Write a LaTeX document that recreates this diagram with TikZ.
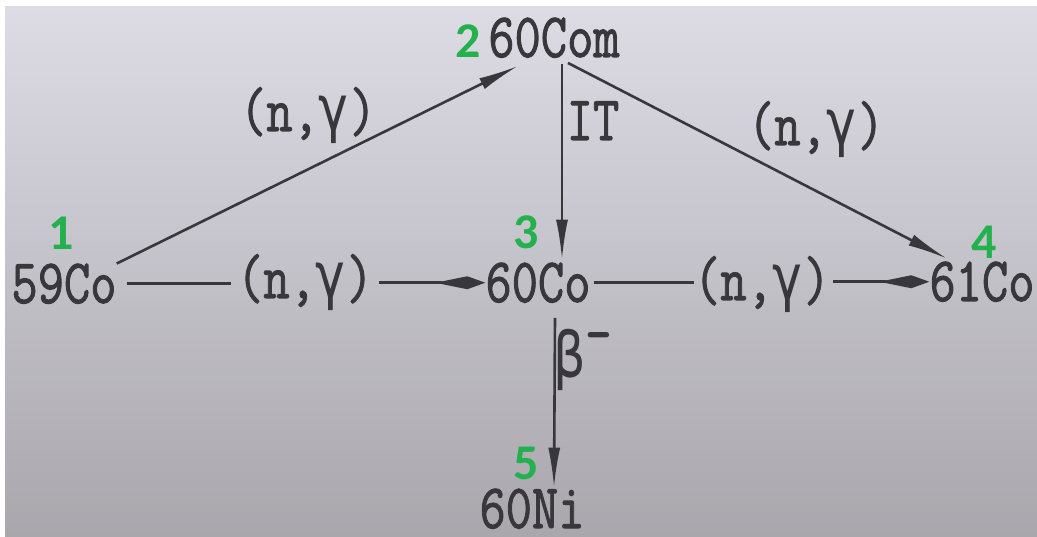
\documentclass[tikz,border=0pt]{standalone}
\usepackage{fontspec}
\newfontfamily\tw{Latin Modern Mono}[FakeBold=1.6]
\newfontfamily\grk{DejaVu Sans Mono}
\newfontfamily\numfont{Carlito}
\usetikzlibrary{arrows.meta,calc}
\definecolor{ink}{HTML}{38383C}
\definecolor{grn}{HTML}{22B14C}
\definecolor{bgtop}{HTML}{DDDCE5}
\definecolor{bgmid}{HTML}{D0D0D6}
\definecolor{bgbot}{HTML}{A9A6AC}
\tikzset{
  txt/.style={font=\fontsize{63}{63}\selectfont\tw, text=ink, inner sep=0pt, xscale=0.81, anchor=base},
  num/.style={font=\fontsize{50}{50}\selectfont\numfont\bfseries, text=grn, inner sep=0pt},
  arrv/.style={draw=ink, line width=2.6pt, -{Latex[length=40pt,width=12pt]}},
  arrh/.style={draw=ink, line width=2.6pt, -{Kite[length=50pt,width=13pt,inset=32pt]}},
  plain/.style={draw=ink, line width=2.6pt}
}
\begin{document}
\begin{tikzpicture}[x=1pt,y=-1pt]
\useasboundingbox (0,0) rectangle (1037,537);
\fill[white] (0,0) rectangle (1037,537);
\shade[top color=bgtop, middle color=bgmid, bottom color=bgbot] (5,7) rectangle (1037,537);

% nuclides
\node[txt] (n1) at (64,303) {59Co};
\node[txt] (n2) at (554,57) {60Com};
\node[txt] (n3) at (538,302) {60Co};
\node[txt] (n4) at (982,301) {61Co};
\node[txt] (n5) at (532,528) {60Ni};

% reaction labels
\node[txt] (l1) at (305,298) {(n,{\grk γ})};
\node[txt] (l2) at (762,300) {(n,{\grk γ})};
\node[txt] (l3) at (308,131) {(n,{\grk γ})};
\node[txt] (l4) at (816,145) {(n,{\grk γ})};
\node[txt] (lit) at (593,140) {IT};
\node[txt] (lb) at (583,378) {{\grk β}\raisebox{24pt}{-}};

% green numbers
\node[num] (g1) at (61,233) {1};
\node[num] (g2) at (468,41) {2};
\node[num] (g3) at (526,232) {3};
\node[num] (g4) at (984,242) {4};
\node[num] (g5) at (526,463) {5};

% connectors
\draw[arrv] (n1.north east) -- ([xshift=-36pt,yshift=-8pt]n2.south);
\draw[arrv] ([xshift=14pt,yshift=-5pt]n2.south) -- ([xshift=-35pt,yshift=3pt]n4.north);
\draw[arrv] ([xshift=8pt,yshift=-6pt]n2.south) -- ([xshift=24pt,yshift=3pt]n3.north);
\draw[arrv] ([xshift=17pt,yshift=-15pt]n3.south) -- ([xshift=22pt,yshift=1pt]n5.north);

\draw[plain, shorten <=10pt, shorten >=6pt] (n1.east) -- (n1.east -| l1.west);
\draw[arrh, shorten <=6pt] (l1.east |- n3.west) -- (n3.west);
\draw[plain, shorten <=3pt] (n3.east) -- (n3.east -| l2.west);
\draw[arrh, shorten <=3pt] (l2.east |- n4.west) -- (n4.west);
\end{tikzpicture}
\end{document}
